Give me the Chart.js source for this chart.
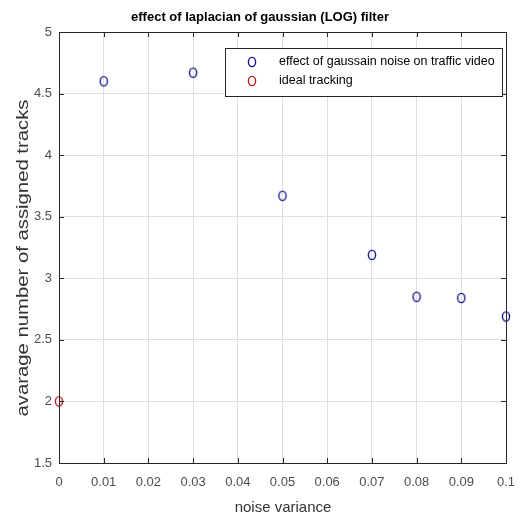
<!DOCTYPE html>
<html>
<head>
<meta charset="utf-8">
<script src="https://cdn.jsdelivr.net/npm/chart.js@4"></script>
<style>
html,body{margin:0;padding:0;background:#fff;}
#wrap{width:532px;height:521px;}
</style>
</head>
<body>
<div id="wrap"><canvas id="c" width="532" height="521"></canvas></div>
<script>
const noiseVariance = [0.01, 0.03, 0.05, 0.07, 0.08, 0.09, 0.1];
const avgTracks = [4.6, 4.67, 3.67, 3.19, 2.85, 2.84, 2.69];
const idealX = [0];
const idealY = [2];
const xTicks = [0, 0.01, 0.02, 0.03, 0.04, 0.05, 0.06, 0.07, 0.08, 0.09, 0.1];
const yTicks = [1.5, 2, 2.5, 3, 3.5, 4, 4.5, 5];
const seriesLabels = ['effect of gaussain noise on traffic video', 'ideal tracking'];
const titleText = 'effect of laplacian of gaussian (LOG) filter';
const xTitle = 'noise variance';
const yTitle = 'avarage number of assigned tracks';

const FONT = '"Liberation Sans", Arial, sans-serif';
const BLUE = '#14148c';
const RED = '#c01818';

function ellipseMarker(color) {
  const c = document.createElement('canvas');
  c.width = 12; c.height = 14;
  const g = c.getContext('2d');
  g.strokeStyle = color;
  g.lineWidth = 1.4;
  g.beginPath();
  g.ellipse(6, 7, 3.6, 4.6, 0, 0, Math.PI * 2);
  g.stroke();
  return c;
}
const blueMarker = ellipseMarker(BLUE);
const redMarker = ellipseMarker(RED);

const boxPlugin = {
  id: 'boxPlugin',
  afterDraw(chart) {
    const ctx = chart.ctx, a = chart.chartArea;
    const xs = chart.scales.x, ys = chart.scales.y;
    ctx.save();
    ctx.strokeStyle = '#262626';
    ctx.lineWidth = 1;
    ctx.strokeRect(Math.round(a.left) + 0.5, Math.round(a.top) + 0.5, Math.round(a.right - a.left), Math.round(a.bottom - a.top));
    ctx.beginPath();
    xTicks.forEach(v => {
      const px = Math.round(xs.getPixelForValue(v)) + 0.5;
      ctx.moveTo(px, a.bottom); ctx.lineTo(px, a.bottom - 5);
      ctx.moveTo(px, a.top); ctx.lineTo(px, a.top + 5);
    });
    yTicks.forEach(v => {
      const py = Math.round(ys.getPixelForValue(v)) + 0.5;
      ctx.moveTo(a.left, py); ctx.lineTo(a.left + 5, py);
      ctx.moveTo(a.right, py); ctx.lineTo(a.right - 5, py);
    });
    ctx.stroke();
    // title
    ctx.fillStyle = '#000';
    ctx.font = 'bold 13px ' + FONT;
    ctx.textAlign = 'center';
    ctx.textBaseline = 'middle';
    ctx.fillText(titleText, 260, 17);
    // x title
    ctx.fillStyle = '#333';
    ctx.font = '15px ' + FONT;
    ctx.fillText(xTitle, 283, 508);
    // y title (stretched along its length like the reference)
    ctx.font = '16px ' + FONT;
    const w = ctx.measureText(yTitle).width;
    ctx.save();
    ctx.translate(24, 258);
    ctx.rotate(-Math.PI / 2);
    ctx.scale(317 / w, 1);
    ctx.fillText(yTitle, 0, 0);
    ctx.restore();
    // legend
    const lx = 225, ly = 48, lw = 277, lh = 48;
    ctx.fillStyle = '#fff';
    ctx.fillRect(lx, ly, lw, lh);
    ctx.strokeStyle = '#262626';
    ctx.strokeRect(lx + 0.5, ly + 0.5, lw, lh);
    chart.data.datasets.forEach((ds, i) => {
      const cy = 62 + i * 19;
      const m = ds.pointStyle;
      ctx.drawImage(m, 252 - m.width / 2, cy - m.height / 2);
      ctx.fillStyle = '#000';
      ctx.font = '12.5px ' + FONT;
      ctx.textAlign = 'left';
      ctx.fillText(ds.label, 279, cy);
    });
    ctx.restore();
  }
};

new Chart(document.getElementById('c'), {
  type: 'scatter',
  data: {
    datasets: [
      {
        label: seriesLabels[0],
        data: noiseVariance.map((x, i) => ({x, y: avgTracks[i]})),
        borderColor: BLUE,
        pointStyle: blueMarker,
        clip: false
      },
      {
        label: seriesLabels[1],
        data: idealX.map((x, i) => ({x, y: idealY[i]})),
        borderColor: RED,
        pointStyle: redMarker,
        clip: false
      }
    ]
  },
  options: {
    responsive: false,
    animation: false,
    devicePixelRatio: 1,
    layout: { padding: { left: 0, right: 26, top: 32, bottom: 0 } },
    plugins: { legend: { display: false }, title: { display: false }, tooltip: { enabled: false } },
    scales: {
      x: {
        type: 'linear', min: 0, max: 0.1,
        afterBuildTicks: s => { s.ticks = xTicks.map(v => ({value: v})); },
        afterFit: s => { s.height = 58; },
        grid: { color: '#dedede', drawTicks: false },
        border: { display: false },
        ticks: { color: '#4d4d4d', font: { size: 13, family: FONT }, padding: 12, maxRotation: 0,
                 callback: v => String(v) },
        title: { display: false }
      },
      y: {
        type: 'linear', min: 1.5, max: 5,
        afterBuildTicks: s => { s.ticks = yTicks.map(v => ({value: v})); },
        afterFit: s => { s.width = 59; },
        grid: { color: '#dedede', drawTicks: false },
        border: { display: false },
        ticks: { color: '#4d4d4d', font: { size: 13, family: FONT }, padding: 7, callback: v => String(v) },
        title: { display: false }
      }
    }
  },
  plugins: [boxPlugin]
});
</script>
</body>
</html>
